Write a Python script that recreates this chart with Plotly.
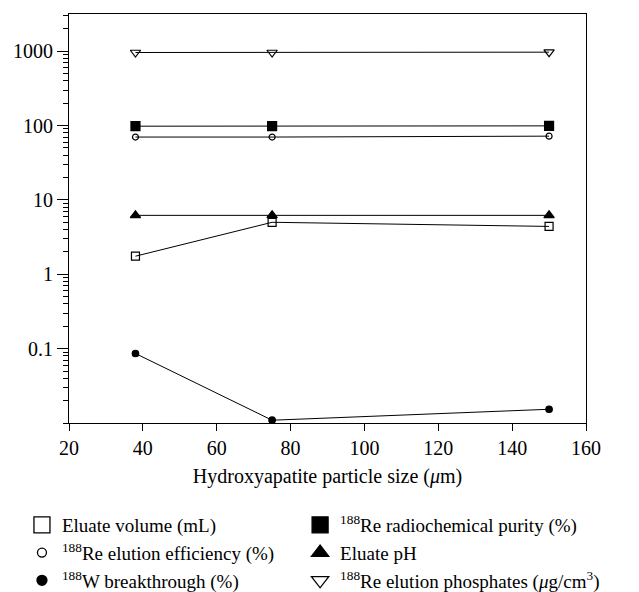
import plotly.graph_objects as go

x_size = [38, 75, 150]
eluate_volume = [1.75, 5.0, 4.4]
re_purity = [98, 98, 99]
re_efficiency = [70, 70, 72]
eluate_ph = [6.2, 6.2, 6.2]
w_breakthrough = [0.086, 0.0109, 0.0153]
re_phosphates = [960, 960, 970]

names = [
    "Eluate volume (mL)",
    "<sup>188</sup>Re radiochemical purity (%)",
    "<sup>188</sup>Re elution efficiency (%)",
    "Eluate pH",
    "<sup>188</sup>W breakthrough (%)",
    "<sup>188</sup>Re elution phosphates (<i>μ</i>g/cm<sup>3</sup>)",
]
series = [eluate_volume, re_purity, re_efficiency, eluate_ph, w_breakthrough, re_phosphates]
symbols = ["square-open", "square", "circle-open", "triangle-up", "circle", "triangle-down-open"]
sizes = [8, 9, 6, 9, 6.5, 9]
legend_sizes = [16, 16, 9, 15, 10, 15]
legend_ids = ["legend", "legend2", "legend", "legend2", "legend", "legend2"]

FONT = "Liberation Serif"
fig = go.Figure()
for nm, ys, sym, sz in zip(names, series, symbols, sizes):
    fig.add_trace(go.Scatter(x=x_size, y=ys, mode="lines+markers", showlegend=False,
                             line=dict(color="black", width=1),
                             marker=dict(symbol=sym, size=sz, color="black",
                                         line=dict(color="black", width=1.2)),
                             hoverinfo="skip"))
# legend entries (markers only, as in the reference legend)
for nm, sym, lsz, lid in zip(names, symbols, legend_sizes, legend_ids):
    fig.add_trace(go.Scatter(x=[None], y=[None], mode="markers", name=nm, legend=lid,
                             marker=dict(symbol=sym, size=lsz, color="black",
                                         line=dict(color="black", width=1.3))))

leg_common = dict(orientation="v", xanchor="left", y=-0.203, yanchor="top",
                  itemsizing="trace", font=dict(size=19, family=FONT),
                  tracegroupgap=0, bgcolor="rgba(0,0,0,0)")

fig.update_layout(
    width=639, height=592,
    margin=dict(l=69, r=53, t=14, b=169, autoexpand=False),
    paper_bgcolor="white", plot_bgcolor="white",
    font=dict(family=FONT, size=20, color="black"),
    xaxis=dict(range=[20, 160], tickvals=[20, 40, 60, 80, 100, 120, 140, 160],
               ticks="outside", ticklen=7, tickwidth=1, tickcolor="black",
               showline=True, linecolor="black", linewidth=1.2, mirror=True,
               showgrid=False, zeroline=False,
               title=dict(text="Hydroxyapatite particle size (<i>μ</i>m)", standoff=10,
                          font=dict(size=20))),
    yaxis=dict(type="log", range=[-2.0, 3.5],
               tickvals=[0.1, 1, 10, 100, 1000], ticktext=["0.1", "1", "10", "100", "1000"],
               ticks="outside", ticklen=11, tickwidth=1, tickcolor="black",
               minor=dict(ticks="outside", ticklen=5, tickwidth=1, tickcolor="black",
                          dtick="D1", showgrid=False),
               showline=True, linecolor="black", linewidth=1.2, mirror=True,
               showgrid=False, zeroline=False),
    legend=dict(x=-0.091, **leg_common),
    legend2=dict(x=0.447, **leg_common),
    showlegend=True,
)
fig.write_html("out.html", config={"displayModeBar": False},
               post_script="document.body.style.margin='0';document.body.style.overflow='hidden';")
